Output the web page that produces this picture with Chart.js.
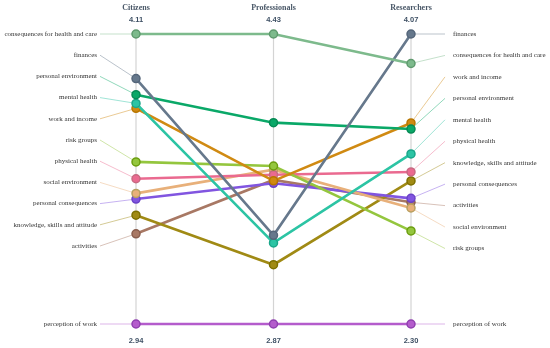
<!DOCTYPE html>
<html><head><meta charset="utf-8">
<script src="https://cdn.jsdelivr.net/npm/chart.js@4/dist/chart.umd.min.js"></script>
<style>html,body{margin:0;padding:0;background:#fff}#wrap{width:550px;height:348px}</style>
</head><body><div id="wrap"><canvas id="c" width="550" height="348"></canvas></div>
<script>
const groups = ['Citizens', 'Professionals', 'Researchers'];
const axisMax = [4.11, 4.43, 4.07];
const axisMin = [2.94, 2.87, 2.30];
const topLabels = ['4.11', '4.43', '4.07'];
const bottomLabels = ['2.94', '2.87', '2.30'];
const categories = ['consequences for health and care', 'finances', 'personal environment', 'mental health', 'work and income', 'risk groups', 'physical health', 'social environment', 'personal consequences', 'knowledge, skills and attitude', 'activities', 'perception of work'];
const citizens =      [4.11, 3.93, 3.865, 3.83, 3.81, 3.594, 3.526, 3.467, 3.444, 3.379, 3.304, 2.94];
const professionals = [4.43, 3.347, 3.953, 3.306, 3.64, 3.72, 3.673, 3.70, 3.627, 3.189, 3.645, 2.87];
const researchers =   [3.89, 4.07, 3.49, 3.338, 3.527, 2.868, 3.228, 3.008, 3.067, 3.173, 3.043, 2.30];
const lineColors =  ['#7dba8c', '#66788c', '#0aa868', '#2cc4a4', '#d08a12', '#94c63e', '#ea6a90', '#e8b07a', '#8155e0', '#a08a14', '#a87864', '#b45ccc'];
const pointColors = ['#5f9a6e', '#55667a', '#078a55', '#1aa68a', '#b87600', '#6c9e10', '#c76a82', '#b8a060', '#6a42c8', '#7d7000', '#8a5e4e', '#9040b0'];

const series = [citizens, professionals, researchers];
function norm(v, i) { return (v - axisMin[i]) / (axisMax[i] - axisMin[i]); }

const datasets = categories.map((name, k) => ({
  label: name,
  data: series.map((s, i) => norm(s[k], i)),
  borderColor: lineColors[k],
  backgroundColor: lineColors[k],
  pointBackgroundColor: lineColors[k],
  pointBorderColor: pointColors[k],
  pointBorderWidth: 1.5,
  pointRadius: 4,
  borderWidth: 2.6,
  tension: 0,
  clip: false
}));

const deco = {
  id: 'deco',
  beforeDatasetsDraw(chart) {
    const ctx = chart.ctx, x = chart.scales.x, y = chart.scales.y;
    const top = y.getPixelForValue(1), bot = y.getPixelForValue(0);
    ctx.save();
    ctx.strokeStyle = '#d4d4d4';
    ctx.lineWidth = 1.2;
    groups.forEach((g, i) => {
      const px = x.getPixelForValue(i);
      ctx.beginPath(); ctx.moveTo(px, top); ctx.lineTo(px, bot); ctx.stroke();
    });
    // connectors + labels
    const sides = [
      {axis: 0, vals: citizens, spacing: 21.2, dir: -1},
      {axis: 2, vals: researchers, spacing: 21.45, dir: 1}
    ];
    sides.forEach(side => {
      const order = categories.map((c, k) => k).sort((a, b) => side.vals[b] - side.vals[a]);
      const px = x.getPixelForValue(side.axis);
      order.forEach((k, r) => {
        const py = y.getPixelForValue(norm(side.vals[k], side.axis));
        const ly = (r === order.length - 1) ? py : top + r * side.spacing;
        const lx = side.dir < 0 ? px - 36 : px + 34;
        ctx.strokeStyle = lineColors[k];
        ctx.globalAlpha = 0.45;
        ctx.lineWidth = 1;
        ctx.beginPath(); ctx.moveTo(px, py); ctx.lineTo(lx, ly); ctx.stroke();
        ctx.globalAlpha = 1;
        ctx.fillStyle = '#333';
        ctx.font = '7px "Liberation Serif", serif';
        ctx.textBaseline = 'middle';
        ctx.textAlign = side.dir < 0 ? 'right' : 'left';
        ctx.fillText(categories[k], side.dir < 0 ? lx - 3 : lx + 8, ly);
      });
    });
    ctx.restore();
  },
  afterDraw(chart) {
    const ctx = chart.ctx, x = chart.scales.x;
    ctx.save();
    ctx.textAlign = 'center'; ctx.textBaseline = 'middle';
    groups.forEach((g, i) => {
      const px = x.getPixelForValue(i);
      ctx.fillStyle = '#4a5868';
      ctx.font = 'bold 8px "Liberation Serif", serif';
      ctx.fillText(g, px, 8);
      ctx.fillStyle = '#3e5064';
      ctx.font = 'bold 7.5px "Liberation Sans", Arial, sans-serif';
      ctx.fillText(topLabels[i], px, 19.5);
      ctx.fillText(bottomLabels[i], px, 341);
    });
    ctx.restore();
  }
};

new Chart(document.getElementById('c'), {
  type: 'line',
  data: { labels: groups, datasets },
  options: {
    responsive: false,
    animation: false,
    layout: { padding: { left: 136, right: 139, top: 34, bottom: 24 } },
    plugins: { legend: { display: false }, tooltip: { enabled: false } },
    scales: {
      x: { type: 'category', offset: false, display: false },
      y: { type: 'linear', min: 0, max: 1, display: false }
    }
  },
  plugins: [deco]
});
</script></body></html>
